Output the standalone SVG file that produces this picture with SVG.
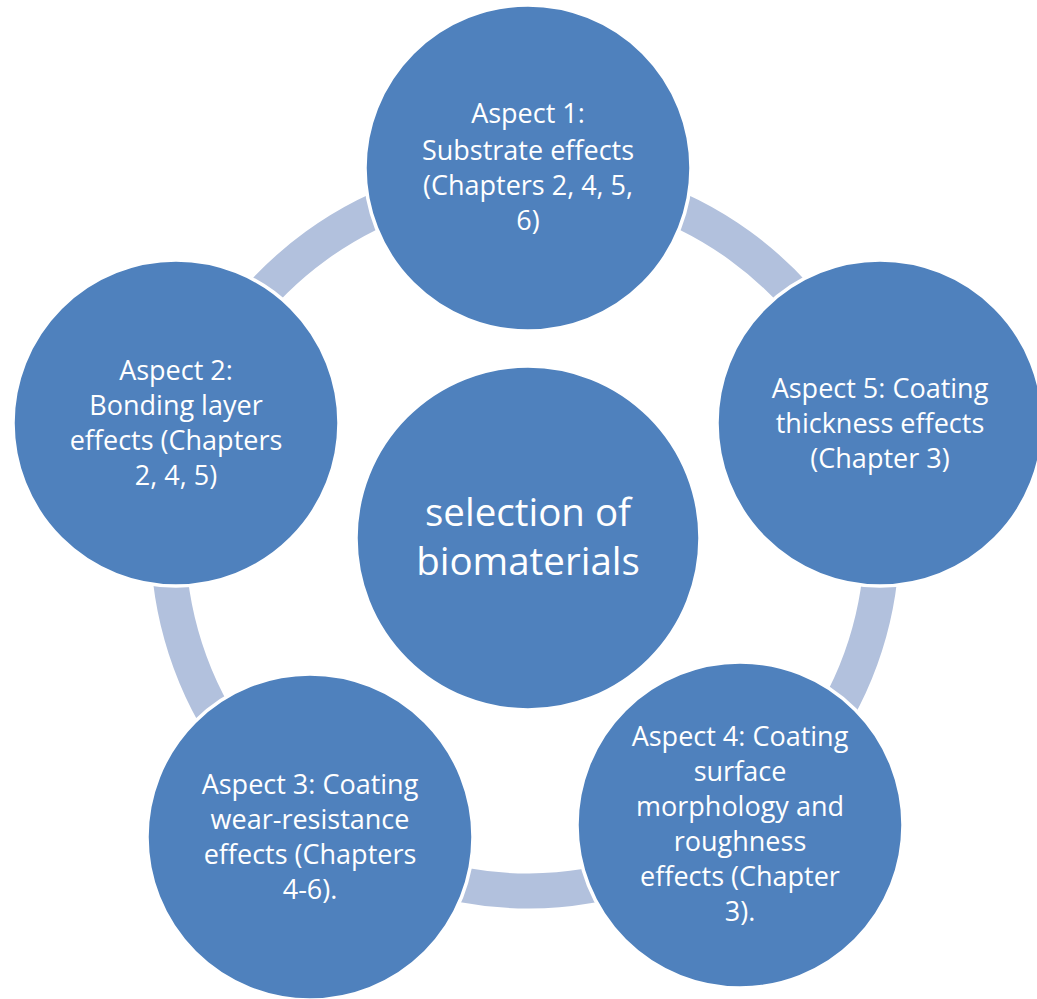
<svg xmlns="http://www.w3.org/2000/svg" width="1037" height="999" viewBox="0 0 1037 999">
<style>
.node{fill:#4F81BD;stroke:#FFFFFF;stroke-width:3.5}
.arc{fill:none;stroke:#B2C1DD;stroke-width:35}
.t{font-family:"Open Sans","Noto Sans","Liberation Sans",sans-serif;font-size:27px;fill:#FFFFFF;text-anchor:middle}
.tc{font-family:"Open Sans","Noto Sans","Liberation Sans",sans-serif;font-size:38.5px;fill:#FFFFFF;text-anchor:middle}
</style>
<rect width="1037" height="999" fill="#FFFFFF"/>
<g id="connectors">
<path class="arc" d="M528,177 A361,361 0 0 1 871.1,425.8"/>
<path class="arc" d="M864.5,428 A354,354 0 0 1 738.6,822.6"/>
<path class="arc" d="M738,821.8 A353,353 0 0 1 320,823.2"/>
<path class="arc" d="M315.9,828.9 A360,360 0 0 1 185.8,426.1"/>
<path class="arc" d="M184.9,425.8 A361,361 0 0 1 528,177"/>
</g>
<g id="center">
<circle class="node" cx="528" cy="538" r="172"/>
<text class="tc" x="528" y="526">selection of</text>
<text class="tc" x="528" y="575">biomaterials</text>
</g>
<g id="aspect1">
<circle class="node" cx="528" cy="168" r="163"/>
<text class="t" x="528" y="123">Aspect 1:</text>
<text class="t" x="528" y="160">Substrate effects</text>
<text class="t" x="528" y="195">(Chapters 2, 4, 5,</text>
<text class="t" x="528" y="230">6)</text>
</g>
<g id="aspect5">
<circle class="node" cx="880" cy="423" r="163"/>
<text class="t" x="880" y="398">Aspect 5: Coating</text>
<text class="t" x="880" y="433">thickness effects</text>
<text class="t" x="880" y="468">(Chapter 3)</text>
</g>
<g id="aspect4">
<circle class="node" cx="740" cy="825" r="163"/>
<text class="t" x="740" y="746">Aspect 4: Coating</text>
<text class="t" x="740" y="781">surface</text>
<text class="t" x="740" y="816">morphology and</text>
<text class="t" x="740" y="851">roughness</text>
<text class="t" x="740" y="886">effects (Chapter</text>
<text class="t" x="740" y="921">3).</text>
</g>
<g id="aspect3">
<circle class="node" cx="310" cy="837" r="163"/>
<text class="t" x="310" y="794">Aspect 3: Coating</text>
<text class="t" x="310" y="829">wear-resistance</text>
<text class="t" x="310" y="864">effects (Chapters</text>
<text class="t" x="310" y="899">4-6).</text>
</g>
<g id="aspect2">
<circle class="node" cx="176" cy="423" r="163"/>
<text class="t" x="176" y="380">Aspect 2:</text>
<text class="t" x="176" y="415">Bonding layer</text>
<text class="t" x="176" y="450">effects (Chapters</text>
<text class="t" x="176" y="485">2, 4, 5)</text>
</g>
</svg>
